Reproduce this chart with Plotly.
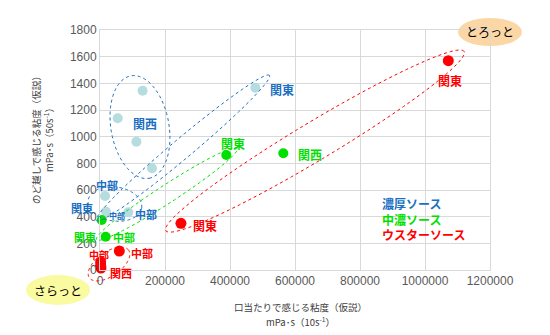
import numpy as np
import plotly.graph_objects as go

# ---------------- data ----------------
noko_x = [131000, 54500, 112000, 160000, 478000, 15400, 18500, 87000]
noko_y = [1345, 1138, 962, 763, 1367, 555, 437, 433]
chuno_x = [388600, 564000, 5200, 17500]
chuno_y = [862, 875, 375, 250]
worcester_x = [1071700, 249000, 59400, 2000, 2000, 3000]
worcester_y = [1570, 350, 142, 60, 35, 15]

x_ticks = [0, 200000, 400000, 600000, 800000, 1000000, 1200000]
y_ticks = [0, 200, 400, 600, 800, 1000, 1200, 1400, 1600, 1800]

BLUE = '#1a6fc2'
GREEN = '#00e000'
RED = '#ff0000'
JP = 'Noto Sans CJK JP'

# label texts: (text, x, y, color, size)
labels = [
    ('関東', 560000, 1357, BLUE, 12), ('関西', 138500, 1102, BLUE, 12),
    ('中部', 21500, 637, BLUE, 11), ('関東', -55400, 465, BLUE, 11),
    ('中部', 52300, 412, BLUE, 8), ('中部', 141500, 420, BLUE, 11),
    ('関東', 409000, 952, GREEN, 12), ('関西', 645000, 870, GREEN, 12),
    ('関東', -46000, 247, GREEN, 11), ('中部', 74000, 247, GREEN, 11),
    ('関東', 1077000, 1425, RED, 12), ('関東', 323000, 337, RED, 12),
    ('中部', 129000, 127, RED, 11), ('中部', -3000, 120, RED, 10),
    ('関西', 64600, -22, RED, 11),
]
legend_items = [('濃厚ソース', 502, BLUE), ('中濃ソース', 382, GREEN), ('ウスターソース', 270, RED)]

# ellipses: center x, center y (data), semi-axes a,b (px), angle deg, colour
ellipses = [
    (123000, 1072, 52, 29, -80, BLUE),
    (255000, 915, 113, 10, 40, BLUE),
    (46000, 495, 27, 17, -8, BLUE),
    (206000, 570, 84, 9, 33, GREEN),
    (661500, 967, 174, 19, 31, RED),
    (27700, 45, 24, 12, 35, RED),
]

XR = [0, 1200000]
YR = [0, 1800]
L, R, T, B = 100, 60, 30, 65
W, H = 550, 335
PW, PH = W - L - R, H - T - B

def to_paper(x, y):
    return (x - XR[0]) / (XR[1] - XR[0]), (y - YR[0]) / (YR[1] - YR[0])

fig = go.Figure()
fig.add_trace(go.Scatter(x=noko_x, y=noko_y, mode='markers',
                         marker=dict(color='#b5dde0', size=10), cliponaxis=False))
fig.add_trace(go.Scatter(x=chuno_x, y=chuno_y, mode='markers',
                         marker=dict(color=GREEN, size=10), cliponaxis=False))
fig.add_trace(go.Scatter(x=worcester_x, y=worcester_y, mode='markers',
                         marker=dict(color=RED, size=11), cliponaxis=False))

shapes = []
t = np.linspace(0, 2 * np.pi, 120)
for cx, cy, a, b, ang, col in ellipses:
    px0, py0 = to_paper(cx, cy)
    th = np.radians(ang)
    ex = a * np.cos(t) * np.cos(th) - b * np.sin(t) * np.sin(th)
    ey = a * np.cos(t) * np.sin(th) + b * np.sin(t) * np.cos(th)
    pxs = px0 + ex / PW
    pys = py0 + ey / PH
    path = 'M ' + ' L '.join(f'{u:.5f},{v:.5f}' for u, v in zip(pxs, pys)) + ' Z'
    shapes.append(dict(type='path', path=path, xref='paper', yref='paper',
                       line=dict(color=col, width=1, dash='dot'), layer='above'))

def pix_to_paper(X, Y):
    return (X - L) / PW, (H - B - Y) / PH

# badges
for (cxp, cyp, w, h, col, txt) in [(490, 32, 64, 28, '#fbd7a6', 'とろっと'),
                                   (58, 290, 64, 30, '#fafaa0', 'さらっと')]:
    x0, y0 = pix_to_paper(cxp - w / 2, cyp + h / 2)
    x1, y1 = pix_to_paper(cxp + w / 2, cyp - h / 2)
    shapes.append(dict(type='circle', xref='paper', yref='paper', x0=x0, x1=x1, y0=y0, y1=y1,
                       fillcolor=col, line=dict(width=0), layer='below'))

annotations = []
for txt, x, y, col, sz in labels:
    px_, py_ = to_paper(x, y)
    annotations.append(dict(x=px_, y=py_, xref='paper', yref='paper', text=f'<b>{txt}</b>',
                            showarrow=False, xanchor='center', yanchor='middle',
                            font=dict(family=JP, size=sz, color=col)))
for txt, y, col in legend_items:
    px_, py_ = to_paper(862000, y)
    annotations.append(dict(x=px_, y=py_, xref='paper', yref='paper', text=f'<b>{txt}</b>',
                            showarrow=False, xanchor='left', yanchor='middle',
                            font=dict(family=JP, size=12, color=col)))
for (cxp, cyp, txt) in [(490, 32, 'とろっと'), (58, 290, 'さらっと')]:
    px_, py_ = pix_to_paper(cxp, cyp)
    annotations.append(dict(x=px_, y=py_, xref='paper', yref='paper', text=txt, showarrow=False,
                            xanchor='center', yanchor='middle',
                            font=dict(family=JP, size=12, color='#000000')))

# axis titles
ax_font = dict(family=JP, size=9.5, color='#404040')
for (X, Y, txt, rot) in [(300, 307, '口当たりで感じる粘度（仮説）', 0),
                         (300, 321, 'mPa･s（10s<sup>-1</sup>）', 0),
                         (36, 138, 'のど越しで感じる粘度（仮説）', -90),
                         (48, 138, 'mPa･s（50s<sup>-1</sup>）', -90)]:
    px_, py_ = pix_to_paper(X, Y)
    annotations.append(dict(x=px_, y=py_, xref='paper', yref='paper', text=txt, showarrow=False,
                            xanchor='center', yanchor='middle',
                            textangle=rot, font=ax_font))

tick_font = dict(family='Liberation Sans, Arial', size=12, color='#595959')
fig.update_layout(
    width=W, height=H, margin=dict(l=L, r=R, t=T, b=B),
    paper_bgcolor='white', plot_bgcolor='white', showlegend=False,
    shapes=shapes, annotations=annotations,
    xaxis=dict(range=XR, tickvals=x_ticks, ticktext=[str(v) for v in x_ticks],
               showgrid=True, gridcolor='#d9d9d9', gridwidth=1, zeroline=False,
               showline=True, linecolor='#d9d9d9', mirror=True, tickfont=tick_font,
               ticks='', ticklen=0),
    yaxis=dict(range=YR, tickvals=y_ticks, ticktext=[str(v) for v in y_ticks],
               showgrid=True, gridcolor='#d9d9d9', gridwidth=1, zeroline=False,
               showline=True, linecolor='#d9d9d9', mirror=True, tickfont=tick_font,
               ticks='', ticklen=0),
)
fig.write_html('out.html')
